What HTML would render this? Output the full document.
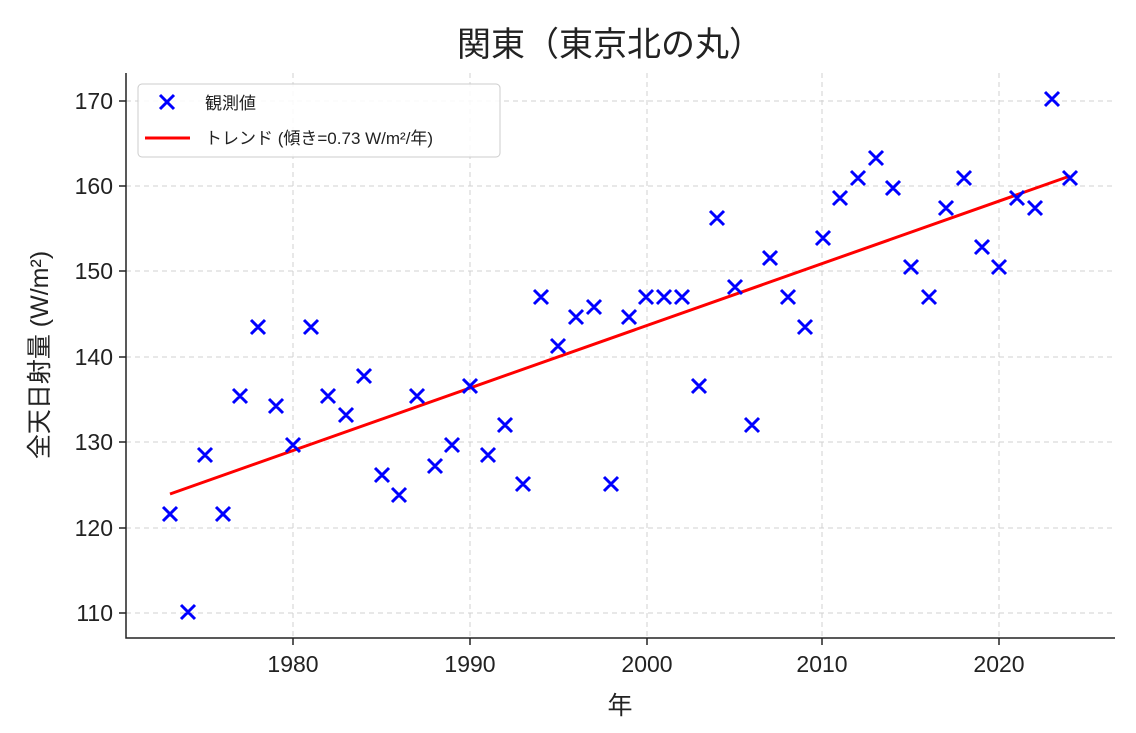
<!DOCTYPE html>
<html><head><meta charset="utf-8"><style>
html,body{margin:0;padding:0;background:#fff;}
text{font-family:"Liberation Sans","Noto Sans CJK JP",sans-serif;fill:#222;}
</style></head><body>
<svg width="1136" height="728" viewBox="0 0 1136 728" xmlns="http://www.w3.org/2000/svg">
<rect width="1136" height="728" fill="#fff"/>
<text x="610" y="56" font-size="34" text-anchor="middle">関東（東京北の丸）</text>
<g stroke="#d0d0d0" stroke-dasharray="5,4" stroke-width="1">
<line x1="293" y1="73" x2="293" y2="638"/><line x1="470" y1="73" x2="470" y2="638"/>
<line x1="647" y1="73" x2="647" y2="638"/><line x1="822" y1="73" x2="822" y2="638"/>
<line x1="999" y1="73" x2="999" y2="638"/>
<line x1="126" y1="101" x2="1115" y2="101"/><line x1="126" y1="186" x2="1115" y2="186"/>
<line x1="126" y1="271" x2="1115" y2="271"/><line x1="126" y1="357" x2="1115" y2="357"/>
<line x1="126" y1="442" x2="1115" y2="442"/><line x1="126" y1="528" x2="1115" y2="528"/>
<line x1="126" y1="613" x2="1115" y2="613"/>
</g>
<g stroke="#222" stroke-width="1.5" fill="none">
<polyline points="126,73 126,638 1115,638"/>
<line x1="293" y1="638" x2="293" y2="645"/><line x1="470" y1="638" x2="470" y2="645"/>
<line x1="647" y1="638" x2="647" y2="645"/><line x1="822" y1="638" x2="822" y2="645"/>
<line x1="999" y1="638" x2="999" y2="645"/>
<line x1="119" y1="101" x2="126" y2="101"/><line x1="119" y1="186" x2="126" y2="186"/>
<line x1="119" y1="271" x2="126" y2="271"/><line x1="119" y1="357" x2="126" y2="357"/>
<line x1="119" y1="442" x2="126" y2="442"/><line x1="119" y1="528" x2="126" y2="528"/>
<line x1="119" y1="613" x2="126" y2="613"/>
</g>
<g font-size="23" text-anchor="middle">
<text x="293" y="672">1980</text><text x="470" y="672">1990</text><text x="647" y="672">2000</text>
<text x="822" y="672">2010</text><text x="999" y="672">2020</text>
</g>
<g font-size="23" text-anchor="end">
<text x="113" y="109">170</text><text x="113" y="194">160</text><text x="113" y="279">150</text>
<text x="113" y="365">140</text><text x="113" y="450">130</text><text x="113" y="536">120</text>
<text x="113" y="621">110</text>
</g>
<text x="620" y="714" font-size="25" text-anchor="middle">年</text>
<text transform="translate(48,355) rotate(-90)" font-size="25" text-anchor="middle">全天日射量 (W/m²)</text>
<line x1="170" y1="494" x2="1070" y2="176" stroke="#ff0000" stroke-width="3"/>
<path stroke="#0000ff" stroke-width="3" fill="none" d="
M163 507l14 14m0 -14l-14 14 M181 605l14 14m0 -14l-14 14 M198 448l14 14m0 -14l-14 14 M216 507l14 14m0 -14l-14 14
M233 389l14 14m0 -14l-14 14 M251 320l14 14m0 -14l-14 14 M269 399l14 14m0 -14l-14 14 M286 438l14 14m0 -14l-14 14
M304 320l14 14m0 -14l-14 14 M321 389l14 14m0 -14l-14 14 M339 408l14 14m0 -14l-14 14 M357 369l14 14m0 -14l-14 14
M375 468l14 14m0 -14l-14 14 M392 488l14 14m0 -14l-14 14 M410 389l14 14m0 -14l-14 14 M428 459l14 14m0 -14l-14 14
M445 438l14 14m0 -14l-14 14 M463 379l14 14m0 -14l-14 14 M481 448l14 14m0 -14l-14 14 M498 418l14 14m0 -14l-14 14
M516 477l14 14m0 -14l-14 14 M534 290l14 14m0 -14l-14 14 M551 339l14 14m0 -14l-14 14 M569 310l14 14m0 -14l-14 14
M587 300l14 14m0 -14l-14 14 M604 477l14 14m0 -14l-14 14 M622 310l14 14m0 -14l-14 14 M639 290l14 14m0 -14l-14 14
M657 290l14 14m0 -14l-14 14 M675 290l14 14m0 -14l-14 14 M692 379l14 14m0 -14l-14 14 M710 211l14 14m0 -14l-14 14
M728 280l14 14m0 -14l-14 14 M745 418l14 14m0 -14l-14 14 M763 251l14 14m0 -14l-14 14 M781 290l14 14m0 -14l-14 14
M798 320l14 14m0 -14l-14 14 M816 231l14 14m0 -14l-14 14 M833 191l14 14m0 -14l-14 14 M851 171l14 14m0 -14l-14 14
M869 151l14 14m0 -14l-14 14 M886 181l14 14m0 -14l-14 14 M904 260l14 14m0 -14l-14 14 M922 290l14 14m0 -14l-14 14
M939 201l14 14m0 -14l-14 14 M957 171l14 14m0 -14l-14 14 M975 240l14 14m0 -14l-14 14 M992 260l14 14m0 -14l-14 14
M1010 191l14 14m0 -14l-14 14 M1028 201l14 14m0 -14l-14 14 M1045 92l14 14m0 -14l-14 14 M1063 171l14 14m0 -14l-14 14"/>
<rect x="138" y="84" width="362" height="73" rx="4" fill="#fff" fill-opacity="0.85" stroke="#ccc"/>
<path stroke="#0000ff" stroke-width="3" d="M160 95l14 14m0 -14l-14 14"/>
<line x1="145" y1="138" x2="190" y2="138" stroke="#ff0000" stroke-width="3"/>
<text x="205" y="109" font-size="17">観測値</text>
<text x="205" y="144" font-size="17">トレンド (傾き=0.73 W/m²/年)</text>
</svg>
</body></html>
